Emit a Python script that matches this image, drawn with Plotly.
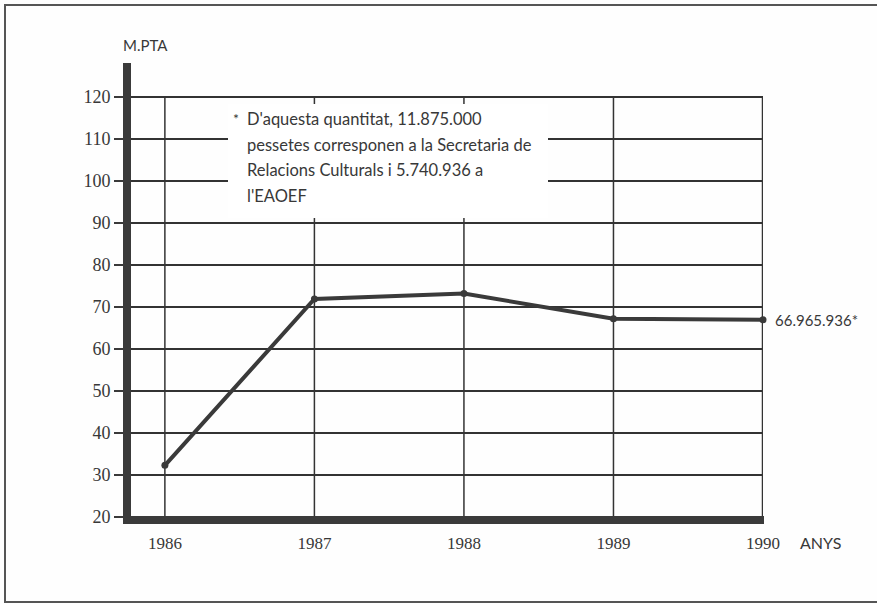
import plotly.graph_objects as go

# Annual amounts, millions of pessetes
years = [1986, 1987, 1988, 1989, 1990]
amounts = [32.3, 71.9, 73.2, 67.2, 66.966]
y_ticks = [20, 30, 40, 50, 60, 70, 80, 90, 100, 110, 120]
x_tick_labels = ["1986", "1987", "1988", "1989", "1990"]
end_label = "66.965.936*"
note_lines = [
    "D'aquesta quantitat, 11.875.000",
    "pessetes corresponen a la Secretaria de",
    "Relacions Culturals i 5.740.936 a",
    "l'EAOEF",
]

W, H = 877, 604
L, R, T, B = 127, 114, 63, 87
PW, PH = W - L - R, H - T - B

INK = "#3a3a3a"
TXT = "#383838"
SERIF = "'Liberation Serif', 'Times New Roman', serif"
SANS = "Lato"


def px_x(p):
    return (p - L) / PW


def px_y(p):
    return (H - B - p) / PH


fig = go.Figure()

fig.add_trace(go.Scatter(
    x=years, y=amounts, mode="lines+markers",
    line=dict(color=INK, width=4),
    marker=dict(color=INK, size=7),
    cliponaxis=False, hoverinfo="skip", showlegend=False,
))

shapes = []
# vertical year lines, stopping at the top gridline
for yr in years:
    shapes.append(dict(type="line", xref="x", yref="y", x0=yr, x1=yr,
                       y0=20, y1=120, layer="below",
                       line=dict(color="#333", width=2.5 if yr == years[-1] else 1.5)))
# white panel behind the note
shapes.append(dict(type="rect", xref="paper", yref="paper",
                   x0=px_x(228), x1=px_x(548), y0=px_y(218), y1=px_y(104),
                   fillcolor="white", line=dict(width=0), layer="above"))
# thick axis bars
shapes.append(dict(type="rect", xref="paper", yref="paper",
                   x0=px_x(123), x1=px_x(131), y0=px_y(524), y1=1,
                   fillcolor=INK, line=dict(width=0), layer="above"))
shapes.append(dict(type="rect", xref="paper", yref="paper",
                   x0=px_x(123), x1=px_x(764), y0=px_y(524), y1=px_y(516),
                   fillcolor=INK, line=dict(width=0), layer="above"))
# frame around the figure (open on the right)
shapes.append(dict(type="rect", xref="paper", yref="paper",
                   x0=px_x(5), x1=px_x(890), y0=px_y(602), y1=px_y(5),
                   fillcolor="rgba(0,0,0,0)", line=dict(color="#555", width=2),
                   layer="above"))

annotations = []
note_y = [119, 145, 170, 196]
for text, py in zip(note_lines, note_y):
    annotations.append(dict(xref="paper", yref="paper", x=px_x(245), y=px_y(py),
                            xanchor="left", yanchor="middle", text=text,
                            showarrow=False, font=dict(family=SANS, size=16.5, color=TXT)))
annotations.append(dict(xref="paper", yref="paper", x=px_x(236), y=px_y(118),
                        xanchor="center", yanchor="middle", text="*",
                        showarrow=False, font=dict(family=SANS, size=14, color=TXT)))
annotations.append(dict(xref="x", yref="y", x=years[-1], y=amounts[-1],
                        xanchor="left", yanchor="middle", xshift=10, text=end_label,
                        showarrow=False, font=dict(family=SANS, size=15, color=TXT)))
annotations.append(dict(xref="paper", yref="paper", x=px_x(121), y=px_y(45),
                        xanchor="left", yanchor="middle", text="M.PTA",
                        showarrow=False, font=dict(family=SANS, size=15, color=TXT)))
annotations.append(dict(xref="paper", yref="paper", x=px_x(798), y=px_y(542),
                        xanchor="left", yanchor="middle", text="ANYS",
                        showarrow=False, font=dict(family=SANS, size=16, color=TXT)))

fig.update_layout(
    width=W, height=H,
    margin=dict(l=L, r=R, t=T, b=B, pad=0),
    paper_bgcolor="#fefefe", plot_bgcolor="#fefefe",
    shapes=shapes, annotations=annotations,
    showlegend=False,
    xaxis=dict(range=[years[0] - (165 - L) / 150, years[-1]],
               tickvals=years, ticktext=x_tick_labels,
               showgrid=False, zeroline=False, showline=False, ticks="",
               ticklabelstandoff=14,
               tickfont=dict(family=SERIF, size=17, color=TXT), fixedrange=True),
    yaxis=dict(range=[20, 20 + PH / 4.2],
               tickvals=y_ticks,
               showgrid=True, gridcolor="#333", gridwidth=1.5,
               zeroline=False, showline=False,
               ticks="outside", ticklen=12, tickwidth=1.5, tickcolor=INK,
               ticklabelstandoff=0,
               tickfont=dict(family=SERIF, size=18, color=TXT), fixedrange=True),
)

fig.write_html("out.html")
